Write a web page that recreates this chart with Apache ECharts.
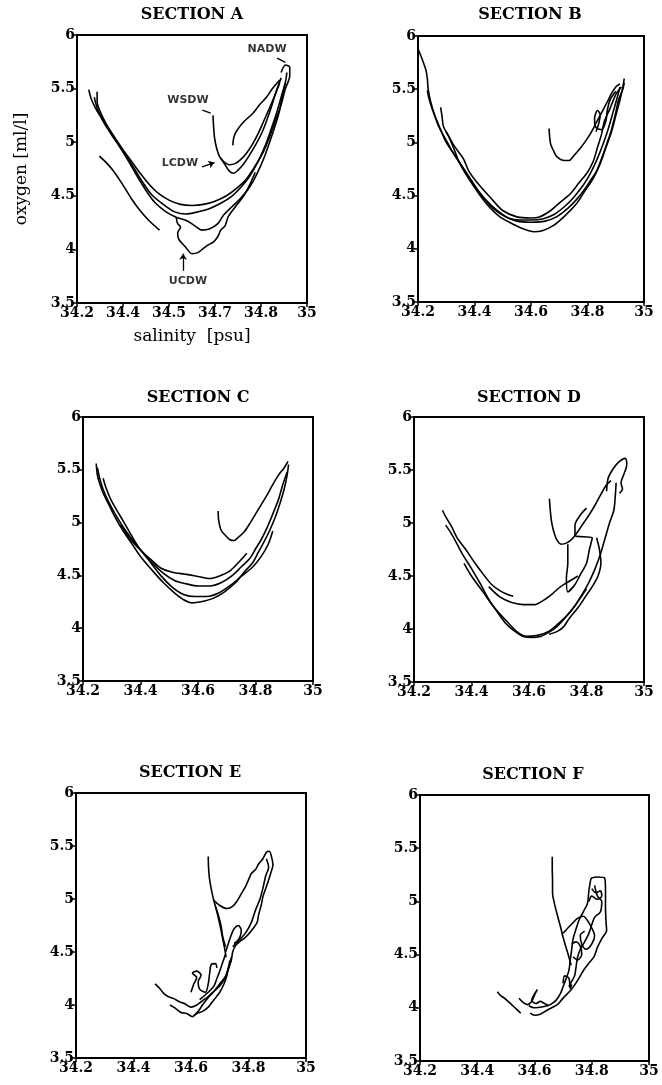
<!DOCTYPE html>
<html>
<head>
<meta charset="utf-8">
<script src="https://cdn.jsdelivr.net/npm/echarts@6/dist/echarts.min.js"></script>
<style>
html,body{margin:0;padding:0;background:#fff;}
#chart{width:662px;height:1085px;}
</style>
</head>
<body>
<div id="chart"></div>
<script>
// ---------- tick values / labels ----------
const X_TICKS = [34.2, 34.4, 34.6, 34.8, 35];
const X_TICK_LABELS = ['34.2', '34.4', '34.6', '34.8', '35'];
const X_TICKS_A = [34.2, 34.36, 34.52, 34.68, 34.84, 35];
const X_TICK_LABELS_A = ['34.2', '34.4', '34.5', '34.7', '34.8', '35'];
const Y_TICKS = [3.5, 4, 4.5, 5, 5.5, 6];
const Y_TICK_LABELS = ['3.5', '4', '4.5', '5', '5.5', '6'];

const SECTION_TITLES = ['SECTION A', 'SECTION B', 'SECTION C', 'SECTION D', 'SECTION E', 'SECTION F'];

// ---------- Section A traces [salinity, oxygen] ----------
const A1 = [[34.241,5.49],[34.25,5.40],[34.27,5.29],[34.30,5.17],[34.33,5.05],[34.36,4.93],[34.39,4.82],[34.42,4.71],[34.45,4.61],[34.48,4.53],[34.52,4.46],[34.56,4.42],[34.60,4.41],[34.64,4.42],[34.68,4.45],[34.72,4.50],[34.76,4.58],[34.79,4.66],[34.82,4.78],[34.85,4.92],[34.87,5.05],[34.89,5.20],[34.91,5.35],[34.925,5.50],[34.94,5.62],[34.94,5.70],[34.925,5.72],[34.91,5.65]];
const A2 = [[34.27,5.47],[34.27,5.38],[34.285,5.26],[34.31,5.13],[34.34,5.00],[34.37,4.88],[34.40,4.75],[34.43,4.62],[34.46,4.51],[34.50,4.42],[34.54,4.35],[34.58,4.33],[34.62,4.35],[34.66,4.38],[34.70,4.43],[34.74,4.50],[34.77,4.58],[34.80,4.68],[34.83,4.82],[34.855,4.97],[34.875,5.12],[34.895,5.28],[34.91,5.42],[34.925,5.56],[34.93,5.65]];
const A3 = [[34.26,5.42],[34.27,5.32],[34.29,5.20],[34.32,5.07],[34.35,4.95],[34.38,4.82],[34.41,4.68],[34.44,4.55],[34.47,4.44],[34.51,4.35],[34.545,4.30],[34.58,4.27],[34.61,4.22],[34.635,4.18],[34.66,4.19],[34.69,4.24],[34.71,4.32],[34.74,4.40],[34.77,4.48],[34.80,4.58],[34.825,4.70],[34.85,4.85],[34.87,5.00],[34.89,5.16],[34.905,5.30],[34.915,5.45],[34.925,5.55]];
const A4 = [[34.278,4.87],[34.29,4.84],[34.305,4.80],[34.33,4.72],[34.36,4.60],[34.39,4.47],[34.42,4.36],[34.45,4.27],[34.487,4.18]];
const A5 = [[34.545,4.30],[34.55,4.24],[34.56,4.21],[34.55,4.15],[34.555,4.09],[34.575,4.03],[34.60,3.96],[34.62,3.97],[34.64,4.01],[34.655,4.04],[34.675,4.07],[34.69,4.12],[34.70,4.18],[34.715,4.22],[34.725,4.30],[34.74,4.36],[34.76,4.43],[34.78,4.50],[34.80,4.60],[34.82,4.72]];
const A6 = [[34.673,5.25],[34.675,5.15],[34.678,5.05],[34.685,4.95],[34.695,4.87],[34.71,4.82],[34.73,4.79],[34.75,4.80],[34.77,4.84],[34.79,4.90],[34.81,4.98],[34.83,5.08],[34.85,5.20],[34.87,5.32],[34.89,5.45],[34.905,5.55]];
const A7 = [[34.742,4.97],[34.745,5.04],[34.754,5.10],[34.78,5.19],[34.812,5.27],[34.835,5.35],[34.859,5.42],[34.88,5.50],[34.905,5.58]];
const A8 = [[34.70,4.85],[34.715,4.79],[34.73,4.73],[34.745,4.71],[34.76,4.74],[34.78,4.80],[34.80,4.88],[34.82,4.97],[34.845,5.10],[34.87,5.28],[34.89,5.45],[34.91,5.60]];

// ---------- Section B traces ----------
const B1 = [[34.20,5.88],[34.215,5.78],[34.228,5.68],[34.233,5.60],[34.236,5.50],[34.245,5.38],[34.26,5.25],[34.28,5.12],[34.30,5.00],[34.33,4.88],[34.36,4.75],[34.39,4.62],[34.42,4.50],[34.45,4.40],[34.49,4.30],[34.53,4.24],[34.57,4.19],[34.61,4.16],[34.64,4.17],[34.68,4.22],[34.72,4.31],[34.76,4.42],[34.79,4.54],[34.82,4.66],[34.845,4.80],[34.865,4.95],[34.885,5.10],[34.90,5.25],[34.915,5.40],[34.925,5.52],[34.93,5.60]];
const B2 = [[34.233,5.49],[34.24,5.40],[34.255,5.28],[34.275,5.14],[34.30,5.02],[34.32,4.92],[34.35,4.80],[34.38,4.68],[34.41,4.56],[34.44,4.46],[34.48,4.36],[34.52,4.29],[34.56,4.27],[34.60,4.27],[34.64,4.28],[34.68,4.32],[34.72,4.40],[34.75,4.48],[34.78,4.58],[34.80,4.66],[34.82,4.76],[34.84,4.88],[34.86,5.02],[34.875,5.14],[34.89,5.28],[34.905,5.42],[34.915,5.52]];
const B3 = [[34.28,5.33],[34.285,5.25],[34.29,5.15],[34.31,5.05],[34.33,4.92],[34.345,4.82],[34.37,4.70],[34.40,4.58],[34.43,4.48],[34.47,4.37],[34.51,4.30],[34.55,4.26],[34.60,4.25],[34.65,4.26],[34.69,4.30],[34.73,4.38],[34.76,4.46],[34.79,4.56],[34.81,4.64],[34.83,4.72],[34.85,4.85],[34.87,5.00],[34.885,5.12],[34.90,5.28],[34.91,5.40],[34.925,5.50],[34.93,5.56]];
const B4 = [[34.664,5.13],[34.666,5.05],[34.67,4.98],[34.68,4.92],[34.69,4.87],[34.705,4.84],[34.72,4.83],[34.735,4.83],[34.75,4.87],[34.77,4.93],[34.79,5.00],[34.81,5.08],[34.83,5.18],[34.85,5.28],[34.87,5.38],[34.885,5.46],[34.90,5.52],[34.915,5.55]];
const B5 = [[34.30,5.10],[34.33,4.96],[34.36,4.85],[34.38,4.73],[34.41,4.62],[34.46,4.47],[34.50,4.36],[34.55,4.30],[34.60,4.29],[34.63,4.30],[34.67,4.36],[34.70,4.43],[34.74,4.52],[34.77,4.62],[34.80,4.72],[34.82,4.82],[34.835,4.95],[34.85,5.08],[34.86,5.20],[34.88,5.32],[34.90,5.45],[34.92,5.52]];
const B6 = [[34.83,5.10],[34.84,5.18],[34.845,5.26],[34.835,5.30],[34.825,5.22],[34.83,5.14],[34.85,5.12],[34.865,5.20],[34.87,5.30],[34.88,5.40],[34.90,5.48]];

// ---------- Section C traces ----------
const C1 = [[34.246,5.56],[34.25,5.45],[34.258,5.37],[34.27,5.28],[34.29,5.17],[34.31,5.06],[34.34,4.92],[34.37,4.80],[34.40,4.68],[34.44,4.55],[34.48,4.43],[34.52,4.33],[34.55,4.27],[34.58,4.24],[34.61,4.25],[34.65,4.28],[34.69,4.34],[34.73,4.43],[34.76,4.53],[34.79,4.62],[34.81,4.72],[34.83,4.82],[34.85,4.93],[34.87,5.06],[34.885,5.18],[34.90,5.32],[34.91,5.45],[34.915,5.55]];
const C2 = [[34.25,5.52],[34.26,5.40],[34.275,5.28],[34.30,5.14],[34.33,5.00],[34.36,4.88],[34.40,4.74],[34.44,4.62],[34.48,4.52],[34.52,4.45],[34.56,4.42],[34.60,4.40],[34.64,4.40],[34.68,4.43],[34.72,4.50],[34.75,4.58],[34.78,4.66],[34.80,4.75],[34.82,4.84],[34.84,4.95],[34.86,5.08],[34.88,5.22],[34.895,5.36],[34.91,5.48]];
const C3 = [[34.33,4.98],[34.36,4.86],[34.40,4.74],[34.44,4.64],[34.47,4.57],[34.51,4.53],[34.56,4.51],[34.60,4.49],[34.64,4.47],[34.67,4.49],[34.71,4.54],[34.74,4.62],[34.77,4.71]];
const C4 = [[34.27,5.42],[34.28,5.33],[34.30,5.20],[34.33,5.06],[34.36,4.92],[34.39,4.78],[34.43,4.64],[34.47,4.50],[34.51,4.39],[34.55,4.32],[34.59,4.30],[34.63,4.30],[34.67,4.33],[34.71,4.40],[34.75,4.49],[34.79,4.58],[34.82,4.68],[34.845,4.80],[34.86,4.92]];
const C5 = [[34.67,5.11],[34.672,5.02],[34.68,4.93],[34.695,4.88],[34.71,4.84],[34.725,4.83],[34.74,4.86],[34.76,4.91],[34.78,4.99],[34.80,5.08],[34.82,5.17],[34.84,5.26],[34.86,5.36],[34.88,5.45],[34.90,5.52],[34.913,5.58]];

// ---------- Section D traces ----------
const D1 = [[34.299,5.12],[34.31,5.06],[34.33,4.97],[34.35,4.86],[34.38,4.75],[34.41,4.63],[34.44,4.52],[34.47,4.42],[34.50,4.36],[34.53,4.32],[34.545,4.31]];
const D2 = [[34.31,4.98],[34.33,4.90],[34.35,4.80],[34.37,4.70],[34.40,4.57],[34.43,4.43],[34.46,4.28],[34.49,4.16],[34.52,4.05],[34.55,3.98],[34.58,3.93],[34.61,3.92],[34.64,3.93],[34.67,3.97],[34.70,4.03],[34.73,4.12],[34.76,4.22],[34.79,4.35],[34.81,4.45],[34.83,4.57],[34.85,4.72],[34.865,4.86],[34.88,5.00],[34.895,5.12],[34.90,5.25],[34.903,5.38]];
const D3 = [[34.374,4.62],[34.40,4.50],[34.44,4.35],[34.48,4.20],[34.52,4.08],[34.56,3.97],[34.59,3.93],[34.63,3.94],[34.67,3.98],[34.71,4.07],[34.74,4.15],[34.77,4.26],[34.80,4.38]];
const D4 = [[34.46,4.40],[34.50,4.30],[34.54,4.25],[34.58,4.23],[34.62,4.23],[34.65,4.27],[34.68,4.33],[34.71,4.40],[34.74,4.45],[34.77,4.50]];
const D5 = [[34.671,5.23],[34.674,5.12],[34.678,5.02],[34.685,4.93],[34.695,4.85],[34.712,4.80],[34.73,4.81],[34.75,4.85],[34.77,4.92],[34.79,5.00],[34.81,5.08],[34.83,5.17],[34.85,5.27],[34.87,5.36],[34.885,5.40]];
const D6 = [[34.87,5.30],[34.875,5.42],[34.89,5.50],[34.91,5.57],[34.935,5.61],[34.94,5.55],[34.93,5.46],[34.92,5.38],[34.925,5.32],[34.915,5.28]];
const D7 = [[34.735,4.80],[34.735,4.62],[34.73,4.48],[34.735,4.35],[34.76,4.42],[34.78,4.52],[34.80,4.62],[34.81,4.75],[34.82,4.86],[34.79,4.87],[34.76,4.88],[34.76,4.98],[34.78,5.08],[34.80,5.14]];
const D8 = [[34.835,4.86],[34.845,4.75],[34.85,4.62],[34.84,4.50],[34.82,4.40],[34.80,4.32],[34.77,4.20],[34.74,4.10],[34.72,4.02],[34.70,3.98],[34.67,3.95]];

// ---------- Section E traces ----------
const E1 = [[34.66,5.40],[34.661,5.30],[34.664,5.20],[34.67,5.10],[34.678,5.00],[34.688,4.90],[34.697,4.80],[34.705,4.70],[34.712,4.60],[34.718,4.52],[34.722,4.45]];
const E2 = [[34.678,4.99],[34.70,4.94],[34.725,4.91],[34.745,4.93],[34.76,4.98],[34.775,5.05],[34.79,5.12],[34.80,5.18],[34.81,5.24],[34.825,5.28],[34.835,5.33],[34.85,5.38],[34.862,5.44],[34.872,5.45],[34.88,5.40],[34.885,5.32],[34.878,5.25],[34.87,5.18],[34.86,5.10],[34.85,5.02],[34.845,4.95],[34.835,4.85],[34.83,4.78],[34.81,4.70],[34.79,4.64],[34.77,4.60],[34.755,4.56],[34.745,4.50],[34.74,4.42],[34.73,4.35],[34.72,4.27],[34.70,4.20],[34.68,4.13],[34.66,4.07],[34.64,4.00],[34.625,3.94],[34.61,3.90]];
const E3 = [[34.72,4.50],[34.73,4.58],[34.74,4.66],[34.75,4.72],[34.765,4.75],[34.775,4.70],[34.77,4.64],[34.76,4.60],[34.75,4.58]];
const E4 = [[34.745,4.55],[34.77,4.62],[34.79,4.68],[34.81,4.78],[34.825,4.90],[34.84,5.00],[34.85,5.10],[34.86,5.22],[34.87,5.30],[34.862,5.38]];
const E5 = [[34.685,4.93],[34.695,4.85],[34.705,4.74],[34.71,4.65],[34.72,4.55]];
const E6 = [[34.475,4.20],[34.49,4.16],[34.505,4.11],[34.52,4.08],[34.54,4.06],[34.56,4.03],[34.58,4.01],[34.60,3.98],[34.62,4.00],[34.64,4.04],[34.66,4.08],[34.68,4.13],[34.70,4.18],[34.715,4.24],[34.725,4.30],[34.735,4.38],[34.74,4.45]];
const E7 = [[34.527,4.00],[34.545,3.97],[34.565,3.93],[34.585,3.92],[34.605,3.89],[34.62,3.92],[34.64,3.94],[34.66,3.98],[34.68,4.05],[34.70,4.12],[34.715,4.20],[34.725,4.28],[34.73,4.35],[34.735,4.42]];
const E8 = [[34.60,4.12],[34.61,4.20],[34.62,4.26],[34.605,4.30],[34.62,4.32],[34.635,4.28],[34.625,4.22],[34.63,4.15],[34.65,4.12],[34.66,4.20],[34.665,4.30],[34.67,4.38],[34.685,4.39],[34.69,4.35]];
const E9 = [[34.63,4.05],[34.66,4.12],[34.68,4.18],[34.69,4.25],[34.70,4.32],[34.71,4.40],[34.72,4.48]];

// ---------- Section F traces ----------
const F1 = [[34.662,5.42],[34.662,5.30],[34.663,5.20],[34.663,5.08],[34.668,5.00],[34.675,4.92],[34.683,4.84],[34.692,4.75],[34.70,4.66],[34.71,4.57],[34.72,4.48],[34.728,4.40]];
const F2 = [[34.796,5.20],[34.80,5.22],[34.82,5.23],[34.845,5.22],[34.848,5.10],[34.848,4.95],[34.85,4.80],[34.852,4.73],[34.835,4.65],[34.82,4.57],[34.808,4.48],[34.79,4.42],[34.773,4.36],[34.758,4.29],[34.744,4.23],[34.725,4.16],[34.703,4.10],[34.69,4.06],[34.68,4.03],[34.66,4.00],[34.645,3.98],[34.62,3.94],[34.60,3.93],[34.585,3.95]];
const F3 = [[34.796,5.20],[34.79,5.10],[34.785,4.98],[34.77,4.90],[34.755,4.82],[34.745,4.74],[34.735,4.65],[34.73,4.55],[34.725,4.45],[34.72,4.35],[34.71,4.27],[34.70,4.20],[34.69,4.13],[34.675,4.07],[34.655,4.03],[34.63,4.01],[34.60,4.00],[34.58,4.02]];
const F4 = [[34.81,5.15],[34.82,5.05],[34.835,5.00],[34.83,4.90],[34.81,4.85],[34.80,4.78],[34.79,4.70],[34.775,4.62],[34.76,4.55],[34.75,4.47],[34.745,4.38],[34.74,4.30],[34.73,4.25],[34.72,4.20]];
const F5 = [[34.70,4.70],[34.72,4.76],[34.735,4.80],[34.75,4.84],[34.77,4.86],[34.785,4.82],[34.80,4.75],[34.81,4.68],[34.80,4.60],[34.78,4.55],[34.765,4.60],[34.76,4.68],[34.775,4.72]];
const F6 = [[34.80,5.12],[34.815,5.08],[34.83,5.10],[34.835,5.05],[34.82,5.02],[34.80,5.05],[34.79,5.00]];
const F7 = [[34.47,4.15],[34.48,4.12],[34.50,4.08],[34.52,4.03],[34.54,3.98],[34.552,3.95]];
const F8 = [[34.546,4.09],[34.56,4.05],[34.575,4.03],[34.59,4.06],[34.60,4.12],[34.61,4.17],[34.60,4.13],[34.59,4.07],[34.605,4.04],[34.62,4.06],[34.635,4.04],[34.65,4.02]];
const F9 = [[34.70,4.23],[34.705,4.30],[34.72,4.28],[34.725,4.18],[34.73,4.22]];
const F10 = [[34.73,4.60],[34.745,4.62],[34.76,4.58],[34.765,4.50],[34.75,4.45],[34.735,4.48]];

const SECTIONS = [
  [A1, A2, A3, A4, A5, A6, A7, A8],
  [B1, B2, B3, B4, B5, B6],
  [C1, C2, C3, C4, C5],
  [D1, D2, D3, D4, D5, D6, D7, D8],
  [E1, E2, E3, E4, E5, E6, E7, E8, E9],
  [F1, F2, F3, F4, F5, F6, F7, F8, F9, F10]
];

// ---------- Section A water-mass labels and arrows ----------
const WATER_MASS_LABELS = [[34.861, 5.87, 'NADW'], [34.586, 5.394, 'WSDW'], [34.558, 4.806, 'LCDW'], [34.586, 3.70, 'UCDW']];
const LEADERS = [
  { from: [34.896, 5.785], to: [34.925, 5.745], head: false },
  { from: [34.636, 5.30], to: [34.665, 5.272], head: false },
  { from: [34.635, 4.77], to: [34.678, 4.81], head: true },
  { from: [34.569, 3.80], to: [34.569, 3.96], head: true }
];

// ---------- layout ----------
const GRIDS = [
  { left: 77, top: 35, width: 230, height: 268 },
  { left: 418, top: 36, width: 226, height: 266 },
  { left: 83, top: 417, width: 230, height: 264 },
  { left: 414, top: 417, width: 230, height: 265 },
  { left: 76, top: 793, width: 230, height: 265 },
  { left: 420, top: 795, width: 229, height: 266 }
];
const TITLE_POS = [[192, 15], [530, 15], [198, 398], [529, 398], [190, 773], [533, 775]];

const SERIF = '"DejaVu Serif", "Liberation Serif", serif';
const SANS = '"DejaVu Sans", "Liberation Sans", sans-serif';

function labelFmt(ticks, labels) {
  return function (v) {
    for (let i = 0; i < ticks.length; i++) if (Math.abs(ticks[i] - v) < 1e-6) return labels[i];
    return '';
  };
}

const grid = [], xAxis = [], yAxis = [], series = [], graphic = [];

GRIDS.forEach((g, i) => {
  grid.push(Object.assign({ show: true, borderColor: '#000', borderWidth: 2, backgroundColor: 'transparent', containLabel: false }, g));
  const xt = i === 0 ? X_TICKS_A : X_TICKS;
  const xl = i === 0 ? X_TICK_LABELS_A : X_TICK_LABELS;
  xAxis.push({
    type: 'value', gridIndex: i, min: 34.2, max: 35,
    axisLine: { show: true, onZero: false, lineStyle: { color: '#000', width: 2 } },
    axisTick: { show: true, inside: false, length: 4, customValues: xt, lineStyle: { color: '#000', width: 1.5 } },
    axisLabel: { show: true, customValues: xt, formatter: labelFmt(xt, xl), color: '#000', fontFamily: SERIF, fontWeight: 'bold', fontSize: 14, margin: 3 },
    splitLine: { show: false },
    name: i === 0 ? 'salinity  [psu]' : '',
    nameLocation: 'middle', nameGap: 25,
    nameTextStyle: { color: '#000', fontFamily: SERIF, fontSize: 17 }
  });
  yAxis.push({
    type: 'value', gridIndex: i, min: 3.5, max: 6,
    axisLine: { show: true, onZero: false, lineStyle: { color: '#000', width: 2 } },
    axisTick: { show: true, inside: false, length: 4, customValues: Y_TICKS, lineStyle: { color: '#000', width: 1.5 } },
    axisLabel: { show: true, customValues: Y_TICKS, formatter: labelFmt(Y_TICKS, Y_TICK_LABELS), color: '#000', fontFamily: SERIF, fontWeight: 'bold', fontSize: 14, margin: 2 },
    splitLine: { show: false },
    name: i === 0 ? 'oxygen [ml/l]' : '',
    nameLocation: 'middle', nameGap: 47, nameRotate: 90,
    nameTextStyle: { color: '#000', fontFamily: SERIF, fontSize: 17 }
  });
  SECTIONS[i].forEach(tr => {
    series.push({
      type: 'line', xAxisIndex: i, yAxisIndex: i, data: tr,
      symbol: 'none', showSymbol: false, smooth: 0.3, silent: true,
      lineStyle: { color: '#000', width: 1.6 }
    });
  });
  graphic.push({
    type: 'text', x: TITLE_POS[i][0], y: TITLE_POS[i][1],
    style: { text: SECTION_TITLES[i], align: 'center', verticalAlign: 'middle', fill: '#000', fontFamily: SERIF, fontWeight: 'bold', fontSize: 16 }
  });
});

// annotations in section A
series.push({
  type: 'scatter', xAxisIndex: 0, yAxisIndex: 0, symbolSize: 1, silent: true,
  itemStyle: { color: 'rgba(0,0,0,0)' },
  data: WATER_MASS_LABELS,
  label: { show: true, position: 'inside', formatter: p => p.value[2], color: '#000', fontFamily: SANS, fontWeight: 'bold', fontSize: 11 },
  markLine: {
    silent: true, symbolSize: 6, animation: false,
    label: { show: false },
    lineStyle: { color: '#000', width: 1.3, type: 'solid' },
    data: LEADERS.map(l => [
      { coord: l.from, symbol: 'none' },
      { coord: l.to, symbol: l.head ? 'arrow' : 'none' }
    ])
  }
});

const chart = echarts.init(document.getElementById('chart'), null, { renderer: 'canvas' });
chart.setOption({ animation: false, backgroundColor: '#fff', grid, xAxis, yAxis, series, graphic });
</script>
</body>
</html>
